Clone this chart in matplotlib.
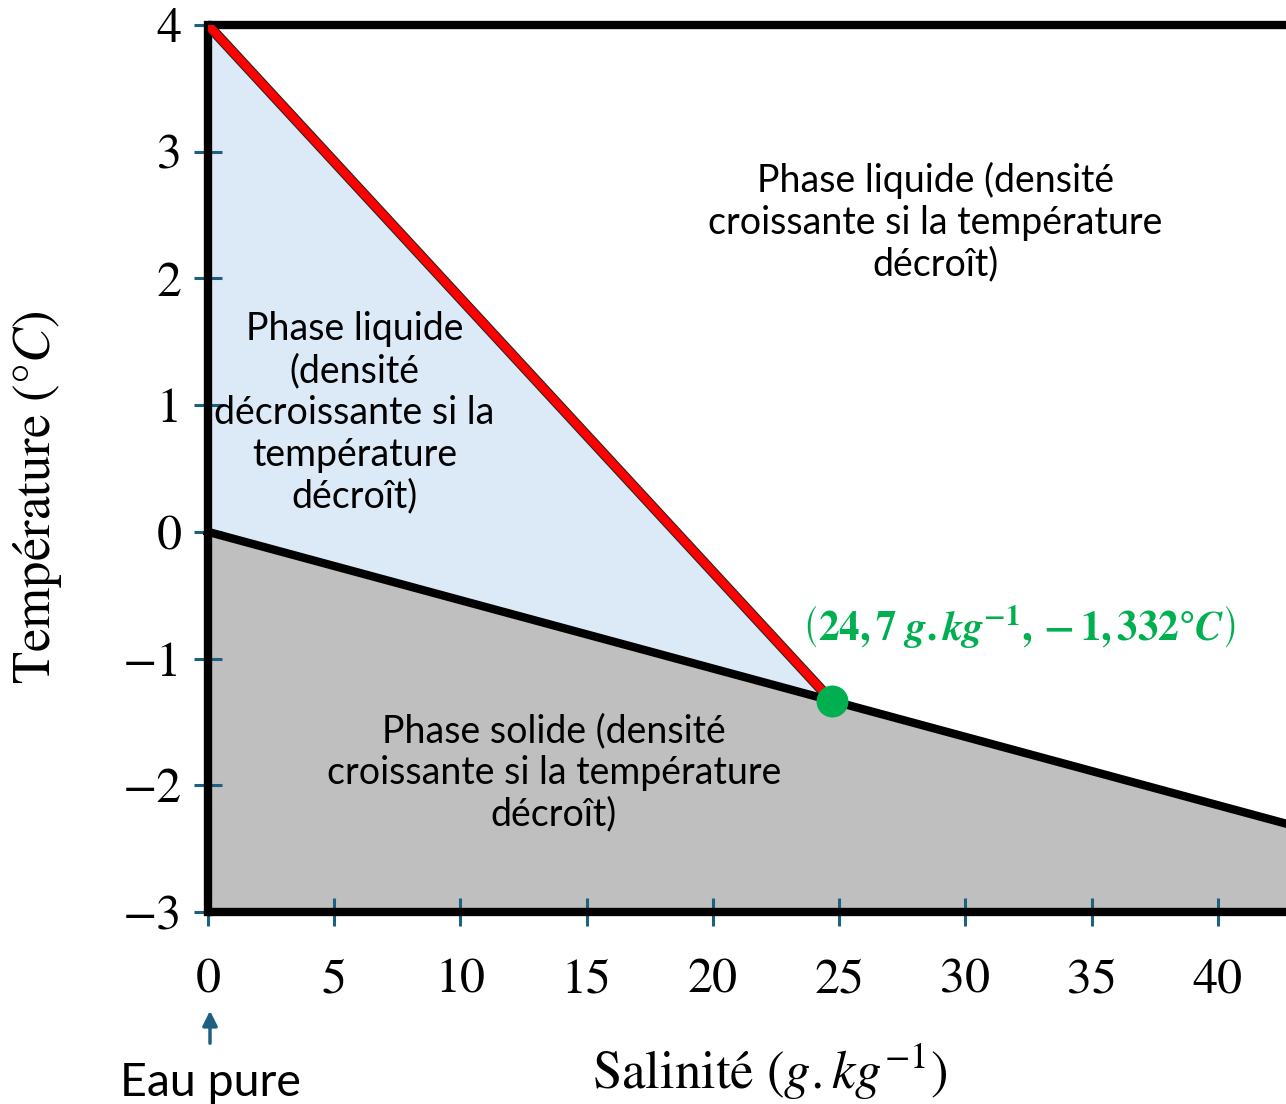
import matplotlib
matplotlib.use("Agg")
import matplotlib.pyplot as plt
import matplotlib.patheffects as pe

plt.rcParams['font.family'] = ['STIXGeneral', 'DejaVu Serif']
plt.rcParams['mathtext.fontset'] = 'stix'

# données
x_ticks = [0, 5, 10, 15, 20, 25, 30, 35, 40]
y_ticks = [-3, -2, -1, 0, 1, 2, 3, 4]
x_max = 42.7
t_max_densite = 4.0        # température de densité max pour l'eau pure
point_x = 24.7             # salinité du point triple (g/kg)
point_y = -1.332           # température (°C)
pente_gel = point_y / point_x   # pente de la ligne de congélation

sans = ['Lato', 'DejaVu Sans']
teal = '#1d6080'

fig = plt.figure(figsize=(12.86, 11.04), dpi=100)
ax = fig.add_axes([208 / 1286, 1 - 912 / 1104, 1 - 208 / 1286, (912 - 25) / 1104])
ax.set_xlim(0, x_max)
ax.set_ylim(-3, 4)

y_gel_fin = pente_gel * x_max

# zones
ax.fill([0, 0, point_x], [t_max_densite, 0, point_y], color='#dce9f6', zorder=1)
ax.fill([0, x_max, x_max, 0], [0, y_gel_fin, -3, -3], color='#bfbfbf', zorder=1)

# cadre et ligne de congélation
lw = 6
ax.plot([0, x_max], [4, 4], color='black', lw=lw, clip_on=False, zorder=3,
        solid_capstyle='butt')
ax.plot([0, x_max], [-3, -3], color='black', lw=lw, clip_on=False, zorder=3,
        solid_capstyle='butt')
ax.plot([0, 0], [-3, 4], color='black', lw=lw, clip_on=False, zorder=3)
ax.plot([0, x_max], [0, y_gel_fin], color='black', lw=lw, clip_on=False, zorder=3)

# ligne de densité maximale
ax.plot([0, point_x], [t_max_densite, point_y], color='red', lw=6, zorder=4,
        path_effects=[pe.Stroke(linewidth=7.5, foreground='#222222'), pe.Normal()])
ax.plot([point_x], [point_y], 'o', color='#00b050', markersize=22, zorder=5)

for s in ax.spines.values():
    s.set_visible(False)
ax.set_xticks(x_ticks)
ax.set_yticks(y_ticks)
ax.tick_params(direction='inout', length=20, width=2.2, color=teal, labelsize=36)
ax.tick_params(axis='x', pad=23)
ax.tick_params(axis='y', pad=9)

# textes
ax.text(28.8, 2.445, 'Phase liquide (densité\ncroissante si la température\ndécroît)',
        ha='center', va='center', fontsize=27, family=sans, linespacing=1.2)
ax.text(5.8, 0.94, 'Phase liquide\n(densité\ndécroissante si la\ntempérature\ndécroît)',
        ha='center', va='center', fontsize=27, family=sans, linespacing=1.2, zorder=6)
ax.text(13.7, -1.9, 'Phase solide (densité\ncroissante si la température\ndécroît)',
        ha='center', va='center', fontsize=27, family=sans, linespacing=1.2)
ax.text(32.1, -0.75,
        r'$\left(\mathbf{24,7}\ \mathbfit{g}\mathbf{.}\mathbfit{kg}^{\mathbf{-1}}\mathbf{,-1,332°}\mathbfit{C}\right)$',
        ha='center', va='center', fontsize=29.5, color='#00b050')

fig.text(770 / 1286, 1 - 1072 / 1104, r'Salinité $(g.kg^{-1})$', ha='center', va='center',
         fontsize=38)
fig.text(38 / 1286, 1 - 497 / 1104, r'Température $(°C)$', ha='center', va='center',
         fontsize=38, rotation=90)
fig.text(210 / 1286, 1 - 1083 / 1104, 'Eau pure', ha='center', va='center',
         fontsize=33.5, family=sans)
fig.add_artist(matplotlib.patches.FancyArrowPatch(
    (210 / 1286, 1 - 1046 / 1104), (210 / 1286, 1 - 1008 / 1104),
    transform=fig.transFigure, arrowstyle='-|>', mutation_scale=22, color=teal, lw=2.5))

fig.savefig('out.png', dpi=100)
